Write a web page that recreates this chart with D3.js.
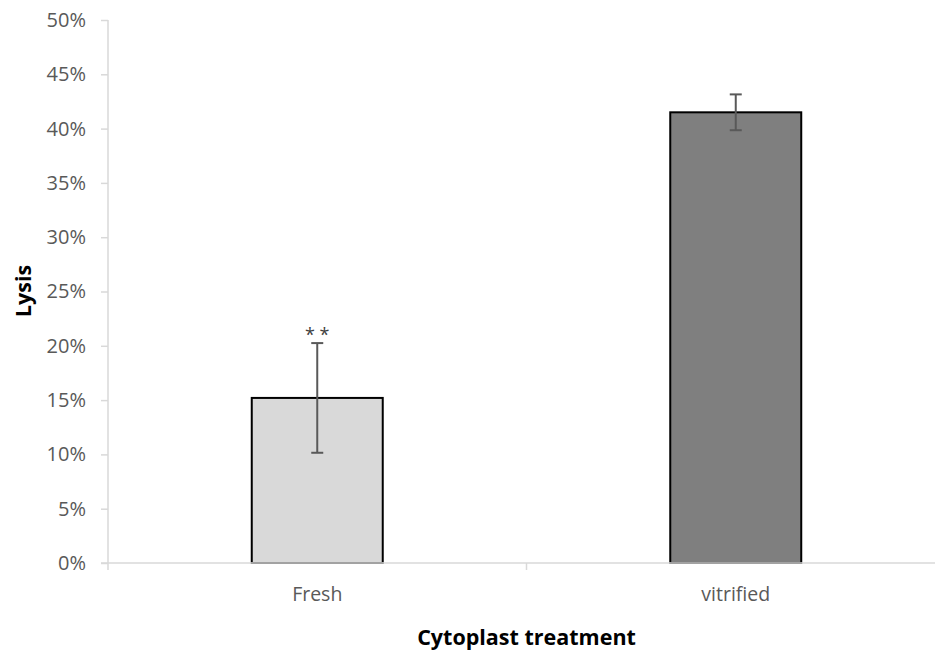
<!DOCTYPE html>
<html><head><meta charset="utf-8">
<script src="https://cdn.jsdelivr.net/npm/d3@7"></script>
<style>body{margin:0;background:#fff}svg{display:block}</style>
</head><body>
<script>
const categories = ["Fresh", "vitrified"];
const values = [0.152, 0.415];
const errors = [0.0505, 0.0165];
const colors = ["#d9d9d9", "#7f7f7f"];
const yTicks = [0,0.05,0.10,0.15,0.20,0.25,0.30,0.35,0.40,0.45,0.50];
const annotations = ["* *", ""];
const xTitle = "Cytoplast treatment";
const yTitle = "Lysis";

const W = 935, H = 653;
const svg = d3.select("body").append("svg").attr("width", W).attr("height", H);
const font = "'Open Sans', sans-serif";
const mLeft = 108, mRight = 945, mTop = 20, mBottom = 563;

const x = d3.scaleBand().domain(categories).range([mLeft, mRight]).paddingInner(0).paddingOuter(0);
const y = d3.scaleLinear().domain([0, 0.5]).range([mBottom, mTop]);
const bw = x.bandwidth() * 0.313;

// bars
svg.selectAll("rect.bar").data(categories).enter().append("rect")
  .attr("x", d => x(d) + x.bandwidth()/2 - bw/2)
  .attr("y", (d,i) => y(values[i]))
  .attr("width", bw)
  .attr("height", (d,i) => y(0) - y(values[i]))
  .attr("fill", (d,i) => colors[i])
  .attr("stroke", "#000").attr("stroke-width", 2);

// axes
const yAxis = d3.axisLeft(y).tickValues(yTicks).tickFormat(d3.format(".0%")).tickSize(7).tickPadding(15);
const gy = svg.append("g").attr("transform", `translate(${mLeft},0)`).call(yAxis);
gy.select(".domain").attr("stroke", "#d9d9d9").attr("stroke-width", 1.5).attr("d", `M0,${mTop}V${mBottom+7}`);
gy.selectAll(".tick line").attr("stroke", "#d9d9d9").attr("stroke-width", 1.5);
gy.selectAll(".tick text").attr("fill", "#595959").style("font-family", font).style("font-size", "20px");

const xAxis = d3.axisBottom(x).tickSize(0).tickPadding(24);
const gx = svg.append("g").attr("transform", `translate(0,${mBottom})`).call(xAxis);
gx.select(".domain").attr("stroke", "#d9d9d9").attr("stroke-width", 1.5).attr("d", `M${mLeft-7},0H${mRight}`);
gx.selectAll(".tick text").attr("fill", "#595959").style("font-family", font).style("font-size", "19.5px");
// category separator ticks
svg.selectAll("line.sep").data(x.domain().slice(1)).enter().append("line")
  .attr("x1", d => x(d)).attr("x2", d => x(d))
  .attr("y1", mBottom).attr("y2", mBottom + 7)
  .attr("stroke", "#d9d9d9").attr("stroke-width", 1.5);

// error bars
const eg = svg.selectAll("g.err").data(categories).enter().append("g")
  .attr("stroke", "#595959").attr("stroke-width", 2);
eg.append("line")
  .attr("x1", d => x(d) + x.bandwidth()/2).attr("x2", d => x(d) + x.bandwidth()/2)
  .attr("y1", (d,i) => y(values[i] - errors[i])).attr("y2", (d,i) => y(values[i] + errors[i]));
[-1, 1].forEach(s => {
  eg.append("line")
    .attr("x1", d => x(d) + x.bandwidth()/2 - 6).attr("x2", d => x(d) + x.bandwidth()/2 + 6)
    .attr("y1", (d,i) => y(values[i] + s*errors[i])).attr("y2", (d,i) => y(values[i] + s*errors[i]));
});

// annotations
svg.selectAll("text.ann").data(categories).enter().append("text")
  .attr("x", d => x(d) + x.bandwidth()/2)
  .attr("y", (d,i) => y(values[i] + errors[i]) - 2)
  .attr("text-anchor", "middle")
  .attr("fill", "#404040").style("font-family", font).style("font-size", "18px")
  .text((d,i) => annotations[i]);

// titles
svg.append("text").attr("x", x(categories[1])).attr("y", 645)
  .attr("text-anchor", "middle").style("font-family", font).style("font-size", "21.5px").style("font-weight", "bold")
  .attr("fill", "#000").text(xTitle);
svg.append("text").attr("transform", "translate(31,291) rotate(-90)")
  .attr("text-anchor", "middle").style("font-family", font).style("font-size", "21.5px").style("font-weight", "bold")
  .attr("fill", "#000").text(yTitle);
</script>
</body></html>
